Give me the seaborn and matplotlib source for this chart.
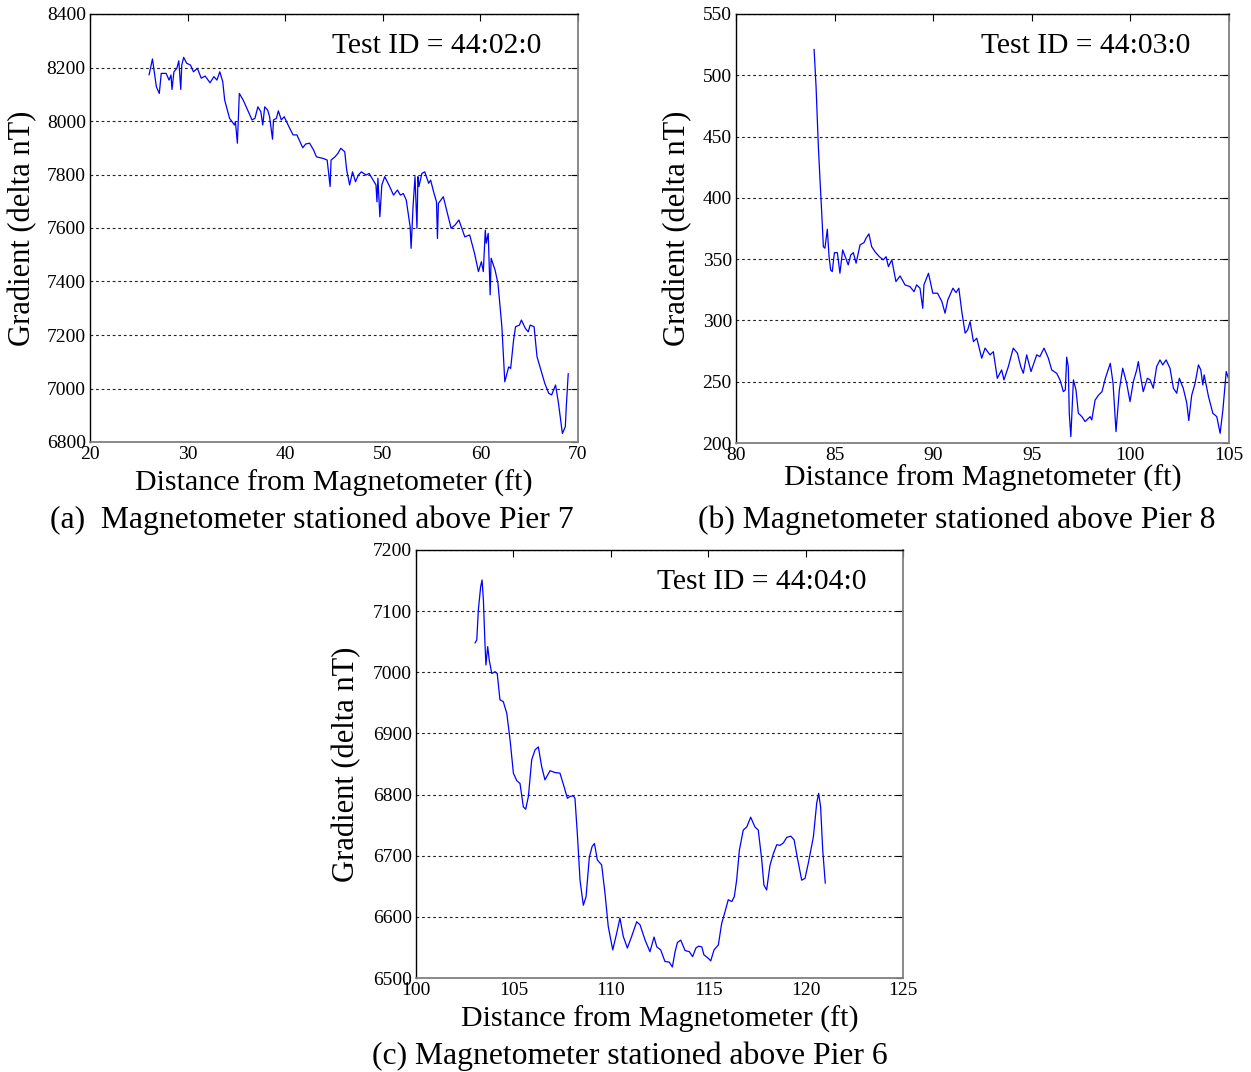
import numpy as np
import pandas as pd
import matplotlib
matplotlib.use("Agg")
import matplotlib.pyplot as plt
import seaborn as sns

# ---- Pier 7 survey (Test ID 44:02:0) ----
pier7_dist = [26.05, 26.4, 26.8, 27.1, 27.3, 27.8, 28.1, 28.3, 28.4, 28.6, 28.9, 29.1, 29.3, 29.4,
              29.6, 29.9, 30.3, 30.6, 31.0, 31.4, 31.8, 32.3, 32.7, 33.0, 33.3, 33.6, 33.8, 34.3,
              34.8, 34.9, 35.1, 35.3, 35.7, 36.0, 36.6, 36.9, 37.2, 37.5, 37.7, 37.9, 38.2, 38.4,
              38.7, 38.8, 39.1, 39.3, 39.6, 39.9, 40.3, 40.8, 41.2, 41.8, 42.1, 42.5, 42.9, 43.2,
              43.9, 44.3, 44.6, 44.7, 45.1, 45.4, 45.7, 46.1, 46.3, 46.6, 46.9, 47.2, 47.5, 47.8,
              48.3, 48.6, 49.0, 49.3, 49.4, 49.5, 49.7, 49.9, 50.2, 50.7, 51.1, 51.5, 51.8, 52.1,
              52.4, 52.8, 52.9, 53.1, 53.3, 53.5, 53.6, 53.7, 54.0, 54.3, 54.7, 54.9, 55.2, 55.5,
              55.6, 55.7, 56.2, 56.5, 57.0, 57.4, 57.8, 58.4, 58.9, 59.4, 59.8, 60.1, 60.3, 60.5,
              60.6, 60.8, 61.0, 61.1, 61.5, 61.8, 62.2, 62.5, 62.9, 63.1, 63.4, 63.6, 64.0, 64.2,
              64.6, 64.9, 65.1, 65.5, 65.8, 66.3, 66.6, 67.0, 67.3, 67.7, 68.0, 68.4, 68.7, 68.8,
              69.0]
pier7_grad = [8172, 8232, 8128, 8103, 8178, 8178, 8153, 8172, 8118, 8184, 8197, 8225, 8118, 8209,
              8238, 8216, 8209, 8184, 8197, 8160, 8168, 8143, 8166, 8153, 8184, 8147, 8078, 8010,
              7985, 7997, 7917, 8103, 8078, 8053, 8004, 8010, 8053, 8035, 7985, 8053, 8041, 8016,
              7932, 8004, 8010, 8038, 8004, 8016, 7985, 7948, 7948, 7900, 7914, 7917, 7892, 7866,
              7860, 7854, 7755, 7854, 7866, 7879, 7898, 7885, 7817, 7761, 7810, 7773, 7798, 7810,
              7798, 7804, 7779, 7761, 7698, 7786, 7642, 7761, 7792, 7755, 7723, 7742, 7723, 7729,
              7705, 7605, 7524, 7680, 7792, 7599, 7792, 7755, 7804, 7810, 7767, 7779, 7736, 7698,
              7561, 7692, 7717, 7673, 7599, 7611, 7630, 7567, 7574, 7505, 7437, 7474, 7437, 7592,
              7543, 7580, 7350, 7487, 7443, 7393, 7231, 7025, 7081, 7075, 7181, 7231, 7237, 7256,
              7225, 7212, 7237, 7231, 7119, 7056, 7019, 6982, 6976, 7013, 6945, 6832, 6857, 6932,
              7056]

# ---- Pier 8 survey (Test ID 44:03:0) ----
pier8_dist = [83.96, 84.06, 84.17, 84.26, 84.34, 84.43, 84.51, 84.63, 84.72, 84.80, 84.88, 84.99,
              85.14, 85.27, 85.41, 85.54, 85.69, 85.82, 85.95, 86.09, 86.29, 86.49, 86.59, 86.74,
              86.88, 87.05, 87.27, 87.47, 87.61, 87.73, 87.90, 88.11, 88.32, 88.57, 88.82, 89.03,
              89.16, 89.33, 89.47, 89.53, 89.76, 89.98, 90.22, 90.44, 90.60, 90.74, 91.00, 91.16,
              91.30, 91.45, 91.62, 91.75, 91.87, 92.04, 92.21, 92.46, 92.63, 92.88, 93.05, 93.25,
              93.47, 93.59, 93.81, 94.06, 94.27, 94.44, 94.57, 94.74, 94.96, 95.25, 95.41, 95.62,
              95.84, 96.01, 96.26, 96.43, 96.60, 96.70, 96.77, 96.85, 96.90, 96.98, 97.11, 97.24,
              97.36, 97.54, 97.70, 97.96, 98.04, 98.21, 98.38, 98.56, 98.73, 98.98, 99.12, 99.27,
              99.44, 99.61, 99.81, 99.98, 100.15, 100.32, 100.40, 100.52, 100.65, 100.86, 101.00,
              101.16, 101.33, 101.50, 101.64, 101.81, 102.01, 102.18, 102.35, 102.48, 102.68,
              102.86, 102.96, 103.11, 103.28, 103.45, 103.57, 103.67, 103.74, 103.96, 104.18,
              104.38, 104.55, 104.69, 104.86, 104.97]
pier8_grad = [521.2, 490.7, 444.5, 414.6, 390.0, 360.2, 358.9, 374.4, 352.0, 341.2, 339.8, 355.3,
              355.3, 338.5, 357.5, 352.0, 345.3, 353.4, 355.3, 346.7, 361.6, 363.5, 367.0, 370.6,
              360.2, 356.0, 352.0, 349.4, 352.0, 343.9, 349.4, 331.7, 336.3, 329.0, 327.6, 323.5,
              329.0, 326.3, 309.9, 329.0, 338.5, 322.2, 322.2, 315.4, 305.9, 316.7, 326.3, 322.7,
              326.3, 307.2, 289.6, 292.3, 299.0, 282.7, 285.5, 269.2, 277.4, 271.9, 274.5, 252.8,
              259.6, 251.5, 262.3, 277.4, 273.3, 262.3, 256.9, 271.9, 258.3, 271.9, 270.5, 277.4,
              269.2, 259.6, 256.9, 251.5, 241.9, 243.3, 270.0, 262.3, 224.3, 205.2, 251.5, 243.3,
              224.3, 221.5, 217.5, 221.5, 218.8, 235.0, 239.0, 241.9, 252.8, 265.0, 248.8, 209.3,
              243.3, 261.0, 248.8, 233.8, 250.1, 259.6, 266.4, 254.2, 241.9, 252.8, 251.5,
              244.7, 262.3, 267.8, 263.7, 267.8, 260.9, 244.7, 240.6, 252.8, 244.7,
              232.5, 218.3, 239.0, 248.8, 263.7, 259.6, 247.4, 255.6, 237.9, 224.3,
              221.5, 207.9, 226.9, 258.3, 252.8]

# ---- Pier 6 survey (Test ID 44:04:0) ----
pier6_dist = [103.03, 103.12, 103.20, 103.32, 103.39, 103.46, 103.54, 103.59, 103.68, 103.76, 103.89,
              104.06, 104.17, 104.31, 104.48, 104.66, 104.83, 105.00, 105.17, 105.34, 105.51, 105.63,
              105.77, 105.94, 106.11, 106.28, 106.45, 106.62, 106.88, 107.14, 107.39, 107.60, 107.77,
              107.91, 108.08, 108.16, 108.28, 108.42, 108.59, 108.73, 108.90, 109.04, 109.16, 109.31,
              109.53, 109.70, 109.87, 110.10, 110.30, 110.47, 110.64, 110.85, 111.07, 111.33, 111.50,
              111.76, 112.01, 112.22, 112.36, 112.56, 112.78, 113.00, 113.16, 113.30, 113.42, 113.59,
              113.81, 114.03, 114.20, 114.37, 114.51, 114.67, 114.78, 115.01, 115.13, 115.30, 115.52,
              115.69, 115.86, 116.03, 116.21, 116.34, 116.46, 116.60, 116.80, 116.98, 117.18, 117.40,
              117.57, 117.75, 117.86, 118.00, 118.17, 118.34, 118.52, 118.69, 118.86, 119.03, 119.24,
              119.41, 119.58, 119.80, 119.97, 120.14, 120.40, 120.57, 120.67, 120.77, 120.88, 121.01]
pier6_grad = [7048, 7053, 7102, 7140, 7151, 7118, 7047, 7012, 7042, 7020, 6998,
              7001, 6998, 6955, 6952, 6933, 6889, 6835, 6823, 6818, 6780, 6776,
              6797, 6857, 6873, 6878, 6846, 6824, 6839, 6836, 6835, 6813, 6794,
              6797, 6798, 6794, 6737, 6660, 6619, 6633, 6698, 6715, 6720, 6693,
              6685, 6639, 6584, 6546, 6573, 6598, 6568, 6549, 6568, 6592, 6587,
              6562, 6543, 6567, 6551, 6546, 6527, 6526, 6518, 6543, 6558, 6562,
              6545, 6543, 6535, 6549, 6552, 6551, 6538, 6532, 6528, 6546, 6554,
              6589, 6608, 6628, 6625, 6633, 6660, 6709, 6742, 6747, 6763, 6747,
              6742, 6693, 6652, 6644, 6684, 6703, 6718, 6717, 6721, 6730, 6732,
              6726, 6696, 6660, 6663, 6688, 6731, 6786, 6802, 6780, 6709, 6655]

test_ids = ["Test ID = 44:02:0", "Test ID = 44:03:0", "Test ID = 44:04:0"]
captions = ["(a)  Magnetometer stationed above Pier 7",
            "(b) Magnetometer stationed above Pier 8",
            "(c) Magnetometer stationed above Pier 6"]
x_label = "Distance from Magnetometer (ft)"
y_label = "Gradient (delta nT)"

sns.set_style("white")
plt.rcParams["font.family"] = ["Liberation Serif", "DejaVu Serif"]
plt.rcParams["text.color"] = "black"
plt.rcParams["axes.labelcolor"] = "black"
plt.rcParams["xtick.color"] = "black"
plt.rcParams["ytick.color"] = "black"

W, H = 1251, 1072
fig = plt.figure(figsize=(W / 100, H / 100), dpi=100)


def px_axes(left, top, right, bottom):
    return fig.add_axes([left / W, 1 - bottom / H, (right - left) / W, (bottom - top) / H])


panels = [
    dict(box=(90, 14, 578, 442), x=pier7_dist, y=pier7_grad, xlim=(20, 70), xstep=10,
         ylim=(6800, 8400), ystep=200, ylab_x=-0.139, xlab_y=-0.096, cap=(312, 520)),
    dict(box=(736, 14, 1229, 443), x=pier8_dist, y=pier8_grad, xlim=(80, 105), xstep=5,
         ylim=(200, 550), ystep=50, ylab_x=-0.118, xlab_y=-0.082, cap=(957, 520)),
    dict(box=(416, 550, 903, 978), x=pier6_dist, y=pier6_grad, xlim=(100, 125), xstep=5,
         ylim=(6500, 7200), ystep=100, ylab_x=-0.142, xlab_y=-0.096, cap=(630, 1056)),
]

for p, tid, cap in zip(panels, test_ids, captions):
    ax = px_axes(*p["box"])
    df = pd.DataFrame({"dist": p["x"], "grad": p["y"]})
    sns.lineplot(data=df, x="dist", y="grad", ax=ax, color="#0000ff", lw=0.9,
                 estimator=None, sort=False)
    ax.set_xlim(*p["xlim"])
    ax.set_ylim(*p["ylim"])
    ax.set_xticks(np.arange(p["xlim"][0], p["xlim"][1] + 0.1, p["xstep"]))
    ax.set_yticks(np.arange(p["ylim"][0], p["ylim"][1] + 0.1, p["ystep"]))
    ax.yaxis.grid(True, linestyle=(0, (2.5, 2.5)), color="#222222", lw=0.8)
    ax.xaxis.grid(False)
    ax.tick_params(direction="in", top=True, right=True, length=5, width=0.8,
                   labelsize=14, pad=3, colors="black")
    for side in ("left", "top"):
        ax.spines[side].set_color("black")
        ax.spines[side].set_linewidth(1.0)
    for side in ("right", "bottom"):
        ax.spines[side].set_color("#808080")
        ax.spines[side].set_linewidth(1.3)

    ax.set_xlabel(x_label, fontsize=21.5, va="center")
    ax.xaxis.set_label_coords(0.5, p["xlab_y"])
    ax.set_ylabel(y_label, fontsize=22, va="center")
    ax.yaxis.set_label_coords(p["ylab_x"], 0.5)

    ax.text(0.71, 0.925, tid, transform=ax.transAxes, ha="center", va="center", fontsize=21.3)
    fig.text(p["cap"][0] / W, 1 - p["cap"][1] / H, cap, ha="center", va="center", fontsize=22.8)

fig.savefig("out.png", dpi=100)
